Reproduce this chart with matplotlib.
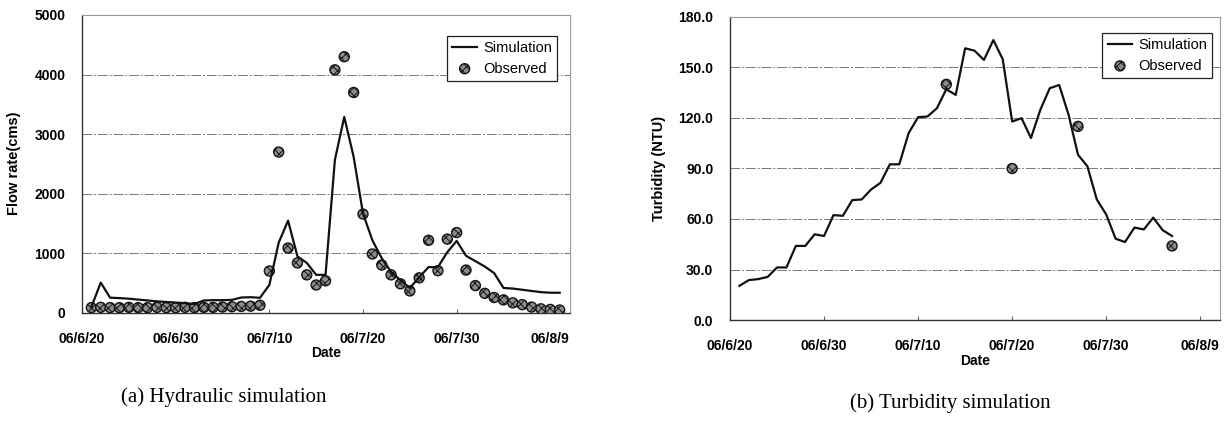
import matplotlib
matplotlib.use("Agg")
import matplotlib.pyplot as plt

# ---------------- data ----------------
date_ticks = [0, 10, 20, 30, 40, 50]
date_labels = ["06/6/20", "06/6/30", "06/7/10", "06/7/20", "06/7/30", "06/8/9"]

flow_days = list(range(1, 52))
flow_sim = [100, 510, 257, 250, 240, 225, 210, 195, 185, 175, 165, 150, 210, 215, 215, 220, 260, 265, 255,
            470, 1180, 1550, 950, 840, 640, 640, 2570, 3290, 2620, 1670, 1220, 920, 690, 550, 420, 600,
            770, 770, 1020, 1210, 960, 870, 780, 670, 420, 410, 390, 370, 350, 340, 340]
flow_obs = [90, 95, 90, 90, 95, 90, 90, 95, 90, 90, 95, 90, 95, 95, 100, 105, 110, 115, 130,
            705, 2700, 1090, 840, 640, 470, 540, 4080, 4300, 3700, 1660, 990, 805, 640, 490, 370, 590,
            1220, 710, 1240, 1350, 720, 460, 330, 260, 220, 170, 140, 100, 70, 60, 50]

turb_days = list(range(1, 48))
turb_sim = [20.3, 23.7, 24.3, 25.6, 31.2, 31.2, 44.0, 44.0, 50.9, 49.9, 62.3, 61.9, 71.2, 71.6, 77.5,
            81.5, 92.5, 92.5, 111.1, 120.5, 120.9, 125.8, 137.1, 133.7, 161.4, 160.0, 154.5, 166.3,
            154.9, 117.9, 119.9, 108.1, 124.9, 137.7, 139.6, 121.9, 98.2, 91.3, 71.6, 62.7, 48.3,
            46.3, 54.9, 53.8, 60.8, 53.4, 49.9]
turb_obs_days = [23, 30, 37, 47]
turb_obs = [140, 90, 115, 44]

flow_yticks = [0, 1000, 2000, 3000, 4000, 5000]
turb_yticks = [0, 30, 60, 90, 120, 150, 180]

# ---------------- style ----------------
plt.rcParams['font.family'] = ['Liberation Sans', 'DejaVu Sans']
plt.rcParams['hatch.linewidth'] = 0.7
plt.rcParams['hatch.color'] = '#1a1a1a'

W, H = 1229, 428
fig = plt.figure(figsize=(W / 100, H / 100), dpi=100)


def px_axes(l, t, r, b):
    return fig.add_axes([l / W, 1 - b / H, (r - l) / W, (b - t) / H])


ax1 = px_axes(82, 15, 570, 313)
ax2 = px_axes(730, 17, 1220, 320)

grid_ls = (0, (10, 2, 2, 2))


def style(ax, yticks, ylim, fmt):
    ax.set_xlim(0, 52.1)
    ax.set_ylim(*ylim)
    ax.set_xticks(date_ticks)
    ax.set_xticklabels(date_labels, fontsize=10, fontweight='bold')
    ax.set_yticks(yticks)
    ax.set_yticklabels([fmt(v) for v in yticks], fontsize=10, fontweight='bold')
    ax.tick_params(axis='x', direction='in', length=3, width=0.8, pad=14, color='#666666')
    ax.tick_params(axis='y', length=0, pad=12)
    ax.grid(axis='y', color='#777777', linestyle=grid_ls, linewidth=0.7)
    ax.set_axisbelow(True)
    for s in ['left', 'bottom']:
        ax.spines[s].set_color('#333333')
        ax.spines[s].set_linewidth(1.0)
    for s in ['top', 'right']:
        ax.spines[s].set_color('#999999')
        ax.spines[s].set_linewidth(0.8)


style(ax1, flow_yticks, (0, 5000), lambda v: f"{v:d}")
style(ax2, turb_yticks, (0, 180), lambda v: f"{v:.1f}")

obs_kw = dict(s=52, facecolor='#8c8c8c', edgecolor='#151515', linewidths=1.0, hatch='xxxx', zorder=3)

ax1.plot(flow_days, flow_sim, color='#111111', linewidth=1.6, label='Simulation', zorder=4)
ax1.scatter(flow_days, flow_obs, label='Observed', **obs_kw)

ax2.plot(turb_days, turb_sim, color='#111111', linewidth=1.6, label='Simulation', zorder=4)
ax2.scatter(turb_obs_days, turb_obs, label='Observed', **obs_kw)

leg_kw = dict(loc='upper right', fontsize=10.5, frameon=True, fancybox=False, framealpha=1,
              edgecolor='#222222', handlelength=1.7, handletextpad=0.4, borderpad=0.35,
              labelspacing=0.45, borderaxespad=0)
l1 = ax1.legend(bbox_to_anchor=(0.973, 0.93), **leg_kw)
l2 = ax2.legend(bbox_to_anchor=(0.984, 0.947), **leg_kw)
for lg in (l1, l2):
    lg.get_frame().set_linewidth(0.9)

# axis labels
fig.text(14.5 / W, 1 - 163 / H, 'Flow rate(cms)', rotation=90, ha='center', va='center',
         fontsize=10.5, fontweight='bold')
fig.text(659 / W, 1 - 168 / H, 'Turbidity (NTU)', rotation=90, ha='center', va='center',
         fontsize=10.5, fontweight='bold')
fig.text(326 / W, 1 - 353 / H, 'Date', ha='center', va='center', fontsize=10, fontweight='bold')
fig.text(975 / W, 1 - 361 / H, 'Date', ha='center', va='center', fontsize=10, fontweight='bold')

# captions
fig.text(224 / W, 1 - 397 / H, '(a) Hydraulic simulation', ha='center', va='center',
         fontsize=15, family=['Liberation Serif', 'DejaVu Serif'])
fig.text(950 / W, 1 - 403 / H, '(b) Turbidity simulation', ha='center', va='center',
         fontsize=15, family=['Liberation Serif', 'DejaVu Serif'])

fig.savefig('out.png', dpi=100)
